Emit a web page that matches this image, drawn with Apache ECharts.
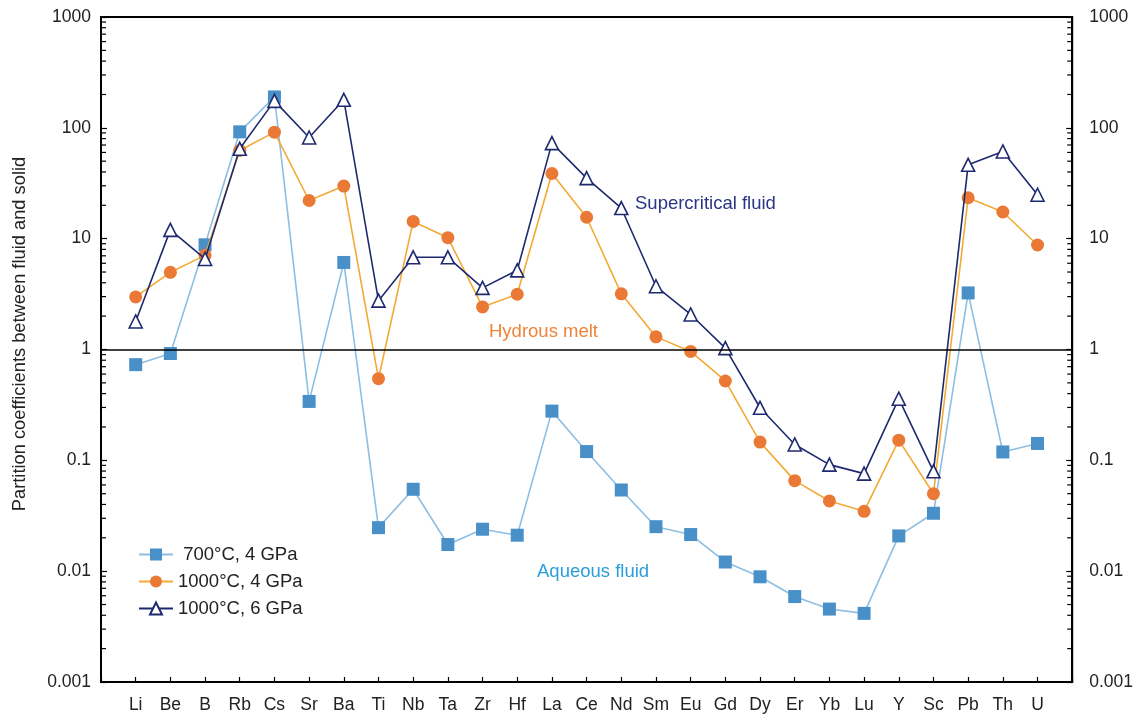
<!DOCTYPE html>
<html><head><meta charset="utf-8">
<script src="https://cdn.jsdelivr.net/npm/echarts@6/dist/echarts.min.js"></script>
<style>html,body{margin:0;padding:0;background:#fff}#c{width:1136px;height:714px}</style>
</head><body><div id="c"></div>
<script>
const elements = ['Li','Be','B','Rb','Cs','Sr','Ba','Ti','Nb','Ta','Zr','Hf','La','Ce','Nd','Sm','Eu','Gd','Dy','Er','Yb','Lu','Y','Sc','Pb','Th','U'];
const aqueous700 = [0.73,0.92,8.8,92,190,0.34,6.1,0.0247,0.0548,0.0174,0.0239,0.0211,0.278,0.12,0.054,0.0252,0.0214,0.0121,0.0089,0.0059,0.00455,0.00416,0.0208,0.0333,3.24,0.119,0.142];
const melt1000_4 = [2.98,4.97,7.07,62.5,91.4,22.1,29.8,0.545,14.3,10.2,2.42,3.15,38.7,15.6,3.18,1.30,0.96,0.52,0.146,0.0656,0.043,0.0347,0.152,0.050,23.4,17.4,8.77];
const super1000_6 = [1.79,12.0,6.56,64.7,175,81.8,179,2.76,6.79,6.79,3.6,5.18,72.8,35.2,18.9,3.72,2.07,1.03,0.298,0.139,0.0915,0.0759,0.36,0.0796,46.4,61.2,24.9];
const seriesNames = [' 700°C, 4 GPa','1000°C, 4 GPa','1000°C, 6 GPa'];
const yMin = 0.001, yMax = 1000;
const minorTickValues = [];
for (let e = -3; e < 3; e++) for (let m = 2; m <= 9; m++) minorTickValues.push(m * Math.pow(10, e));

const FONT = 'Liberation Sans, Arial, Helvetica, sans-serif';
const toPts = arr => arr.map((v, i) => [i + 1, v]);
const fmtLog = v => { const e = Math.round(Math.log10(v)); return e >= 0 ? String(Math.pow(10, e)) : '0.' + '0'.repeat(-e - 1) + '1'; };

const chart = echarts.init(document.getElementById('c'), null, {renderer: 'canvas'});
const xMax = elements.length + 1;
chart.setOption({
  animation: false,
  backgroundColor: '#fff',
  textStyle: {fontFamily: FONT},
  grid: {left: 101, right: 63, top: 17, bottom: 31, show: true, borderColor: '#000', borderWidth: 2, backgroundColor: 'transparent'},
  legend: {
    orient: 'vertical', left: 133, top: 540, itemWidth: 34, itemHeight: 15, itemGap: 8,
    data: seriesNames,
    textStyle: {fontSize: 18.5, color: '#222', fontFamily: FONT}
  },
  xAxis: {
    type: 'value', min: 0, max: xMax, interval: 1,
    axisLine: {lineStyle: {color: '#000', width: 2}},
    axisTick: {inside: true, length: 5, lineStyle: {color: '#000', width: 1.2}},
    splitLine: {show: false},
    axisLabel: {fontSize: 17.5, color: '#222', margin: 14, formatter: v => elements[v - 1] || '', showMinLabel: true, showMaxLabel: true}
  },
  yAxis: [
    {type: 'log', logBase: 10, min: yMin, max: yMax, position: 'left',
     axisLine: {show: true, lineStyle: {color: '#000', width: 2}},
     axisTick: {inside: true, length: 6, lineStyle: {color: '#000', width: 1.2}},
     splitLine: {show: false},
     axisLabel: {fontSize: 17.5, color: '#222', margin: 10, formatter: fmtLog}},
    {type: 'log', logBase: 10, min: yMin, max: yMax, position: 'right',
     axisLine: {show: true, lineStyle: {color: '#000', width: 2}},
     axisTick: {inside: true, length: 6, lineStyle: {color: '#000', width: 1.2}},
     splitLine: {show: false},
     axisLabel: {fontSize: 17.5, color: '#222', margin: 17, formatter: fmtLog}}
  ],
  graphic: [
    {type: 'text', x: 20, y: 334, rotation: Math.PI / 2,
     style: {text: 'Partition coefficients between fluid and solid', fontSize: 18.3, fill: '#222', fontFamily: FONT, align: 'center', verticalAlign: 'middle'}},
    {type: 'text', x: 635, y: 204, style: {text: 'Supercritical fluid', fontSize: 18.5, fill: '#2b3585', fontFamily: FONT, verticalAlign: 'middle'}},
    {type: 'text', x: 489, y: 332, style: {text: 'Hydrous melt', fontSize: 18.5, fill: '#ee8439', fontFamily: FONT, verticalAlign: 'middle'}},
    {type: 'text', x: 537, y: 572, style: {text: 'Aqueous fluid', fontSize: 18.5, fill: '#2a9ed8', fontFamily: FONT, verticalAlign: 'middle'}}
  ],
  series: [
    {type: 'custom', name: 'minorTicks', silent: true, z: 1, clip: false,
     data: minorTickValues.map(v => [0, v]),
     renderItem: (params, api) => {
       const v = api.value(1);
       const pl = api.coord([0, v]);
       const pr = api.coord([xMax, v]);
       return {type: 'group', children: [
         {type: 'line', shape: {x1: pl[0], y1: pl[1], x2: pl[0] + 5, y2: pl[1]}, style: {stroke: '#000', lineWidth: 1.2}},
         {type: 'line', shape: {x1: pr[0], y1: pr[1], x2: pr[0] - 5, y2: pr[1]}, style: {stroke: '#000', lineWidth: 1.2}}
       ]};
     }},
    {type: 'line', name: seriesNames[0], data: toPts(aqueous700), symbol: 'rect', symbolSize: 13,
     lineStyle: {color: '#8cbfe3', width: 1.6}, itemStyle: {color: '#4a90c8'}, z: 2,
     markLine: {silent: true, symbol: 'none', label: {show: false}, lineStyle: {color: '#000', width: 1.5, type: 'solid'}, data: [{yAxis: 1}]}},
    {type: 'line', name: seriesNames[1], data: toPts(melt1000_4), symbol: 'circle', symbolSize: 13,
     lineStyle: {color: '#f3aa35', width: 1.6}, itemStyle: {color: '#e97935'}, z: 3},
    {type: 'line', name: seriesNames[2], data: toPts(super1000_6), symbol: 'triangle', symbolSize: 13,
     lineStyle: {color: '#1f2a6e', width: 1.6}, itemStyle: {color: '#fff', borderColor: '#1f2a6e', borderWidth: 1.6}, z: 4}
  ]
});
</script></body></html>
